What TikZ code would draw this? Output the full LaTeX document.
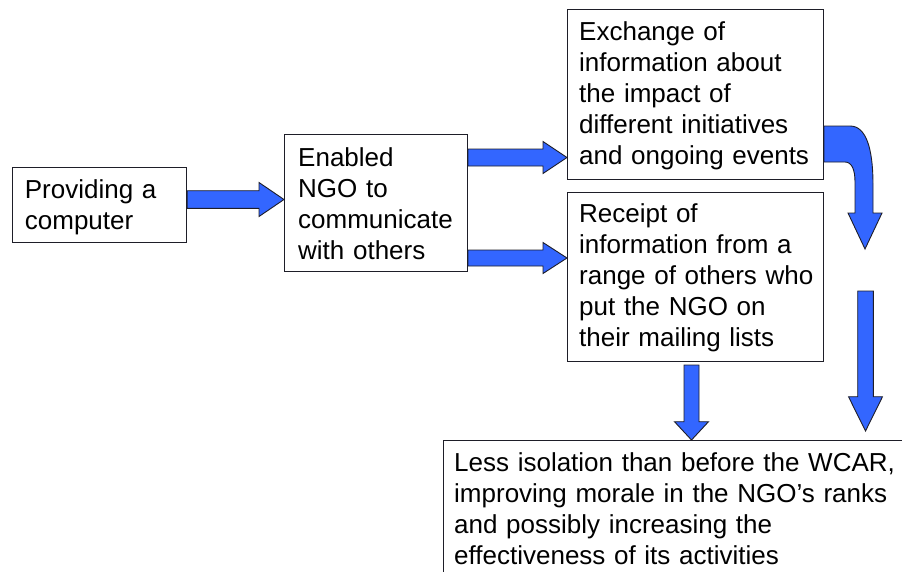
\documentclass[tikz,border=0pt]{standalone}
\usepackage{fontspec}
\setmainfont{Liberation Sans}
\usetikzlibrary{calc}
\definecolor{arrblue}{RGB}{51,102,255}
\definecolor{edge}{RGB}{30,30,40}
\tikzset{
  box/.style={draw=edge, line width=1pt, fill=white, inner sep=0pt, anchor=north west, rectangle},
  txt/.style={anchor=base west, inner sep=0pt, text width=#1, align=left,
    font=\fontsize{26pt}{31pt}\selectfont},
  barrow/.style={fill=arrblue, draw=edge, line width=0.9pt, line join=miter}
}
% right-pointing block arrow: tail, tip, half body, half head, head length
\newcommand\rarr[5]{\draw[barrow] let \p1=#1, \p2=#2 in
  (\x1,\y1+#3pt) -- (\x2-#5pt,\y1+#3pt) -- (\x2-#5pt,\y1+#4pt) -- (\x2,\y2)
  -- (\x2-#5pt,\y1-#4pt) -- (\x2-#5pt,\y1-#3pt) -- (\x1,\y1-#3pt) -- cycle;}
% down-pointing block arrow
\newcommand\darr[5]{\draw[barrow] let \p1=#1, \p2=#2 in
  (\x1-#3pt,\y1) -- (\x1-#3pt,\y2+#5pt) -- (\x1-#4pt,\y2+#5pt) -- (\x2,\y2)
  -- (\x1+#4pt,\y2+#5pt) -- (\x1+#3pt,\y2+#5pt) -- (\x1+#3pt,\y1) -- cycle;}
\begin{document}
\begin{tikzpicture}[x=1pt,y=-1pt]
\useasboundingbox (0,0) rectangle (902,571);
\clip (0,0) rectangle (902,571);
% boxes
\node[box, minimum width=174.5pt, minimum height=74.5pt] (A) at (11.7,167.3) {};
\node[box, minimum width=183pt, minimum height=136.7pt] (B) at (284,134.3) {};
\node[box, minimum width=256pt, minimum height=170pt] (C) at (567,9.3) {};
\node[box, minimum width=256pt, minimum height=169.3pt] (D) at (567,191.7) {};
\node[box, minimum width=480pt, minimum height=200pt] (E) at (443,440) {};
% texts
\node[txt=170pt] (tA) at ($(A.north west)+(13,31)$) {Providing a\\computer};
\node[txt=180pt] (tB) at ($(B.north west)+(14,32)$) {Enabled\\NGO to\\communicate\\with others};
\node[txt=250pt] (tC) at ($(C.north west)+(12,31.4)$) {Exchange of\\information about\\the impact of\\different initiatives\\and ongoing events};
\node[txt=250pt] (tD) at ($(D.north west)+(12,30.6)$) {Receipt of\\information from a\\range of others who\\put the NGO on\\their mailing lists};
\node[txt=450pt] (tE) at ($(E.north west)+(11,31.7)$) {Less isolation than before the WCAR,\\improving morale in the NGO’s ranks\\and possibly increasing the\\effectiveness of its activities};
% horizontal arrows
\rarr{(A.east |- 0,199.5)}{(B.west |- 0,199.5)}{8.8}{17}{25}
\rarr{(B.east |- 0,157.5)}{(C.west |- 0,157.5)}{8.5}{16}{24}
\rarr{(B.east |- 0,258)}{(D.west |- 0,258)}{8}{15.5}{24}
% curved arrow from C
\draw[barrow] (C.east |- 0,126) -- (850,126) .. controls (866,126) and (873,148) .. (873,185)
  -- (873,213) -- (882,213) -- (865,249) -- (848,213) -- (855,213) -- (855,182)
  .. controls (855,170) and (852,162) .. (845,162) -- (C.east |- 0,162) -- cycle;
% vertical arrows
\coordinate (r1) at (865.5,291);
\coordinate (m1) at (691.5,365);
\darr{(r1)}{(865.5,0 |- 0,431)}{7.8}{17}{34.3}
\darr{(m1)}{(691.5,0 |- E.north)}{7.5}{17}{18.3}
\end{tikzpicture}
\end{document}
